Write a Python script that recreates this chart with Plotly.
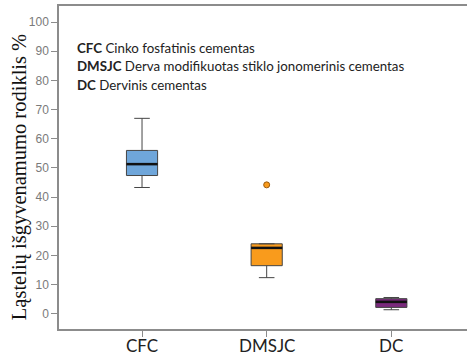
import plotly.graph_objects as go

categories = ["CFC", "DMSJC", "DC"]
positions = [0, 1, 2]
q1 = [47.4, 16.5, 2.2]
median = [51.3, 22.6, 4.1]
q3 = [56.0, 24.0, 5.2]
lowerfence = [43.3, 12.4, 1.4]
upperfence = [67.0, 24.0, 5.6]
outlier_x = [1]
outlier_y = [44.2]
colors = ["#6fa6da", "#f99b1c", "#7a2a7c"]
legend_abbr = ["CFC", "DMSJC", "DC"]
legend_text = ["Cinko fosfatinis cementas",
               "Derva modifikuotas stiklo jonomerinis cementas",
               "Dervinis cementas"]
yticks = list(range(0, 101, 10))

box_w = 0.25
fig = go.Figure()
for i in range(3):
    fig.add_trace(go.Box(
        x=[positions[i]], q1=[q1[i]], median=[median[i]], q3=[q3[i]],
        lowerfence=[lowerfence[i]], upperfence=[upperfence[i]],
        width=box_w, whiskerwidth=0.5,
        fillcolor=colors[i], line=dict(color="#454545", width=1),
        boxpoints=False, showlegend=False, hoverinfo="skip"))
    fig.add_shape(type="line", xref="x", yref="y",
                  x0=positions[i] - box_w / 2, x1=positions[i] + box_w / 2,
                  y0=median[i], y1=median[i],
                  line=dict(color="#111111", width=2.5))
    # category label placed just under the tick mark
    fig.add_annotation(
        xref="x", yref="paper", x=positions[i], y=(329.3 - 346) / 323.3,
        xanchor="center", yanchor="middle", showarrow=False,
        text=categories[i],
        font=dict(family="Lato", size=17, color="#222222"))

fig.add_trace(go.Scatter(
    x=outlier_x, y=outlier_y, mode="markers",
    marker=dict(color=colors[1], size=6, line=dict(color="#9a5a10", width=1)),
    showlegend=False, hoverinfo="skip"))

for i in range(3):
    fig.add_annotation(
        xref="paper", yref="paper", x=(75 - 59) / 408, y=(329.3 - (48 + 18.5 * i)) / 323.3,
        xanchor="left", yanchor="middle", showarrow=False,
        text=f"<b>{legend_abbr[i]}</b> {legend_text[i]}",
        font=dict(family="Lato", size=13.3, color="#222222"))

fig.add_annotation(
    xref="paper", yref="paper", x=(19 - 59) / 408, y=0.47,
    xanchor="center", yanchor="middle", showarrow=False, textangle=-90,
    text="Ląstelių išgyvenamumo rodiklis %",
    font=dict(family="Liberation Serif", size=20.5, color="#111111"))

fig.update_layout(
    width=467, height=357,
    margin=dict(l=59, r=0, t=6, b=28, autoexpand=False),
    paper_bgcolor="white", plot_bgcolor="white",
    xaxis=dict(range=[-0.666, 2.607], tickmode="array", tickvals=positions,
               showticklabels=False, showgrid=False, zeroline=False,
               showline=True, linecolor="#8c8c8c", linewidth=1.5, mirror=True,
               ticks="outside", ticklen=6, tickcolor="#8c8c8c", automargin=False),
    yaxis=dict(range=[-5.2, 105.5], tickmode="array", tickvals=yticks,
               showgrid=False, zeroline=False, automargin=False,
               showline=True, linecolor="#8c8c8c", linewidth=1.5,
               ticks="outside", ticklen=6, tickcolor="#8c8c8c",
               tickfont=dict(family="Liberation Sans", size=12, color="#7a7a7a")),
)

fig.write_html("out.html")
